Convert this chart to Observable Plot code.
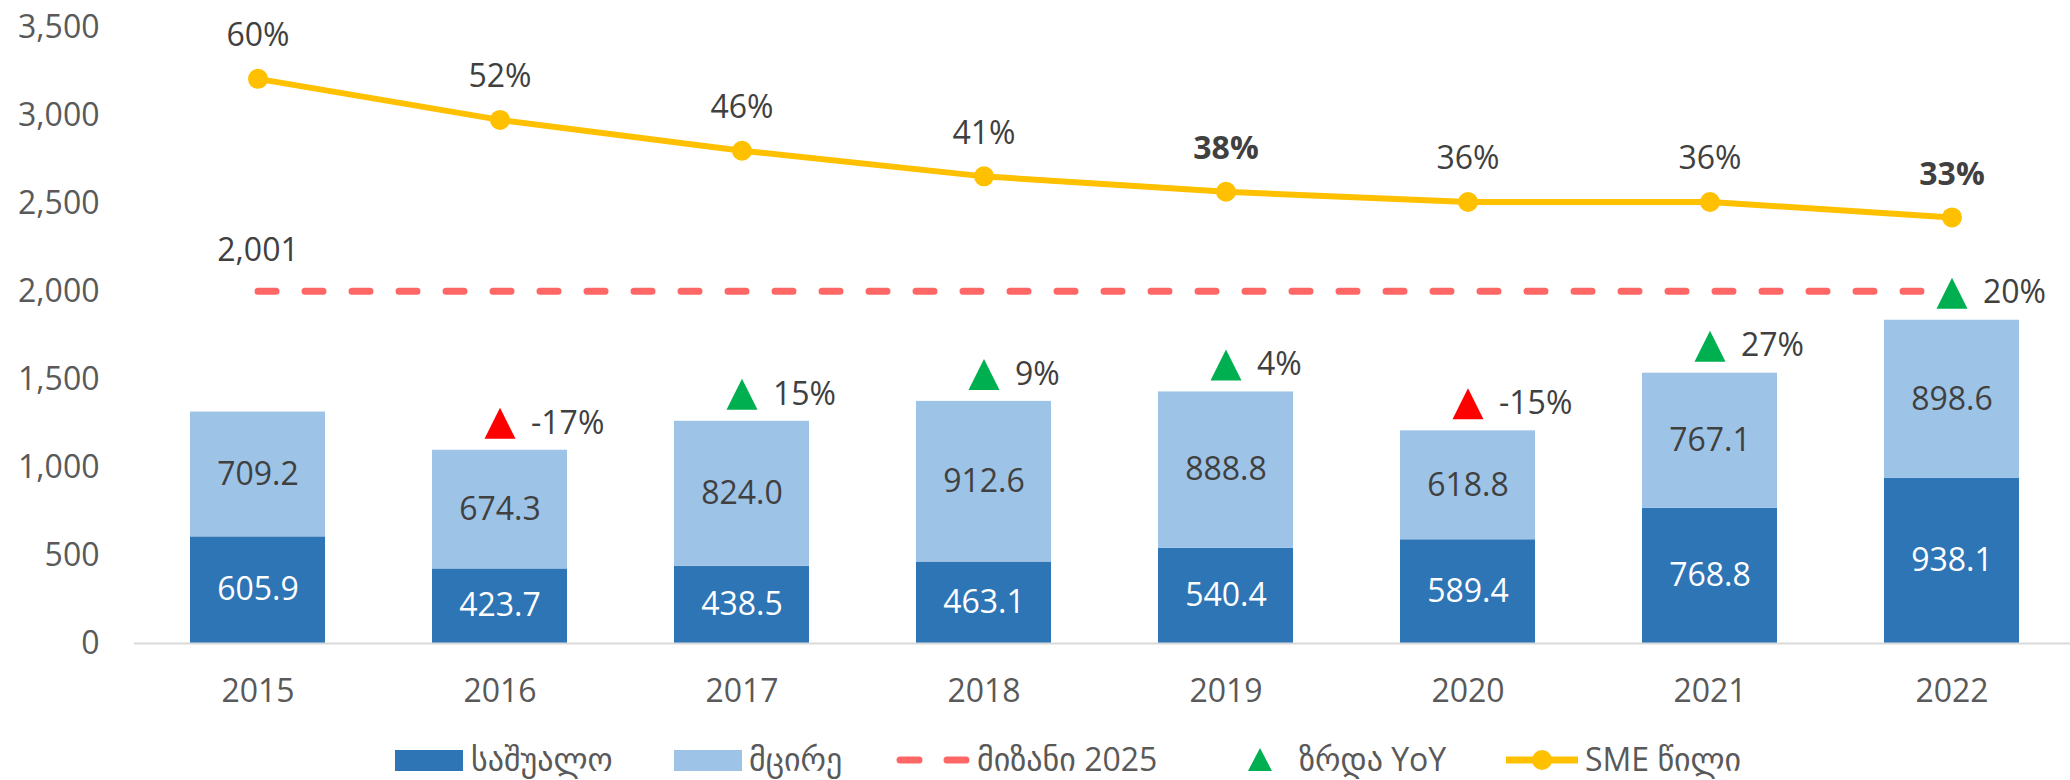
<!DOCTYPE html>
<html>
<head>
<meta charset="utf-8">
<script src="https://cdn.jsdelivr.net/npm/d3@7"></script>
<script src="https://cdn.jsdelivr.net/npm/@observablehq/plot@0.6"></script>
<style>
  html, body { margin: 0; padding: 0; background: #fff; }
  #chart { width: 2070px; }
  #legend { width: 2070px; height: 45px; position: relative; }
  #legend svg { display: block; }
</style>
</head>
<body>
<div id="chart"></div>
<div id="legend"></div>
<script>
// ---- data ----
const years = ["2015", "2016", "2017", "2018", "2019", "2020", "2021", "2022"];
const medium = [605.9, 423.7, 438.5, 463.1, 540.4, 589.4, 768.8, 938.1];   // საშუალო
const small  = [709.2, 674.3, 824.0, 912.6, 888.8, 618.8, 767.1, 898.6];   // მცირე
const target = [2001, 2001, 2001, 2001, 2001, 2001, 2001, 2001];           // მიზანი 2025
const yoy    = [null, -0.17, 0.15, 0.09, 0.04, -0.15, 0.27, 0.20];          // ზრდა YoY
const smeShare = [0.60, 0.52, 0.46, 0.41, 0.38, 0.36, 0.36, 0.33];          // SME წილი
const boldShareYears = ["2019", "2022"];
const yTicks = [0, 500, 1000, 1500, 2000, 2500, 3000, 3500];

const seriesNames = ["საშუალო", "მცირე", "მიზანი 2025", "ზრდა YoY", "SME წილი"];
const colors = {
  medium: "#2E75B6", small: "#9DC3E6", target: "#FF6666",
  up: "#00B050", down: "#FF0000", share: "#FFC000",
  axis: "#595959", label: "#404040"
};

// secondary (hidden) axis for the share line: -50% .. 70% mapped onto 0 .. 3500
const secDomain = [-0.5, 0.7];
const shareToY = s => (s - secDomain[0]) / (secDomain[1] - secDomain[0]) * 3500;

const rows = years.map((y, i) => ({
  year: y, medium: medium[i], small: small[i], total: medium[i] + small[i],
  target: target[i], yoy: yoy[i], share: smeShare[i], shareY: shareToY(smeShare[i]),
  bold: boldShareYears.includes(y)
}));
const yoyRows = rows.filter(d => d.yoy != null);

const font = "'Open Sans', 'DejaVu Sans', sans-serif";

const triangle = {
  draw(context, size) {
    const a = Math.sqrt(size / Math.PI);
    context.moveTo(0, -a);
    context.lineTo(a, a);
    context.lineTo(-a, a);
    context.closePath();
  }
};

const chart = Plot.plot({
  width: 2070,
  height: 735,
  marginTop: 27,
  marginBottom: 92,
  marginLeft: 134,
  marginRight: 0,
  style: { fontFamily: font, fontSize: "32px", background: "#fff" },
  x: { type: "band", domain: years, range: [134, 2074], paddingInner: 0.443, paddingOuter: 0.2215, label: null },
  y: { domain: [0, 3500], label: null },
  marks: [
    Plot.axisY({ ticks: yTicks, tickFormat: d3.format(","), tickSize: 0, tickPadding: 35, fill: colors.axis, fontSize: 32, label: null }),
    Plot.axisX({ tickSize: 0, tickPadding: 36, fill: colors.axis, fontSize: 32, label: null }),
    Plot.barY(rows, { x: "year", y1: 0, y2: "medium", fill: colors.medium }),
    Plot.barY(rows, { x: "year", y1: "medium", y2: "total", fill: colors.small }),
    Plot.ruleY([0], { stroke: "#D9D9D9", strokeWidth: 2 }),
    Plot.text(rows, { x: "year", y: d => d.medium / 2, text: d => d.medium.toFixed(1), fill: "#fff", fontSize: 32 }),
    Plot.text(rows, { x: "year", y: d => d.medium + d.small / 2, text: d => d.small.toFixed(1), fill: colors.label, fontSize: 32 }),
    // target line
    Plot.line(rows, { x: "year", y: "target", stroke: colors.target, strokeWidth: 7, strokeDasharray: "18,29", strokeLinecap: "round" }),
    Plot.text(rows.slice(0, 1), { x: "year", y: "target", text: d => d3.format(",")(d.target), dy: -41, fill: colors.label, fontSize: 32 }),
    // YoY markers
    Plot.dot(yoyRows.filter(d => d.yoy < 0), { x: "year", y: "total", dy: -27, r: 15.5, symbol: triangle, fill: colors.down, stroke: "none" }),
    Plot.dot(yoyRows.filter(d => d.yoy >= 0), { x: "year", y: "total", dy: -27, r: 15.5, symbol: triangle, fill: colors.up, stroke: "none" }),
    Plot.text(yoyRows, { x: "year", y: "total", dy: -27, dx: 31, textAnchor: "start", text: d => d3.format(".0%")(d.yoy).replace("−", "-"), fill: colors.label, fontSize: 32 }),
    // SME share line
    Plot.line(rows, { x: "year", y: "shareY", stroke: colors.share, strokeWidth: 6 }),
    Plot.dot(rows, { x: "year", y: "shareY", r: 10, fill: colors.share, stroke: "none" }),
    Plot.text(rows.filter(d => !d.bold), { x: "year", y: "shareY", dy: -43, text: d => d3.format(".0%")(d.share), fill: colors.label, fontSize: 32 }),
    Plot.text(rows.filter(d => d.bold), { x: "year", y: "shareY", dy: -43, text: d => d3.format(".0%")(d.share), fill: colors.label, fontSize: 32, fontWeight: "bold" })
  ]
});
document.getElementById("chart").appendChild(chart);

// ---- legend (below the chart) ----
const lg = d3.select("#legend").append("svg").attr("width", 2070).attr("height", 45)
  .style("font-family", font).style("font-size", "32px");
const cy = 25;
const textAt = (x, t) => lg.append("text").attr("x", x).attr("y", cy).attr("dy", "0.35em")
  .attr("fill", colors.axis).text(t);
// საშუალო
lg.append("rect").attr("x", 395).attr("y", cy - 10).attr("width", 68).attr("height", 21).attr("fill", colors.medium);
textAt(471, seriesNames[0]);
// მცირე
lg.append("rect").attr("x", 674).attr("y", cy - 10).attr("width", 68).attr("height", 21).attr("fill", colors.small);
textAt(749, seriesNames[1]);
// მიზანი 2025
lg.append("line").attr("x1", 900).attr("x2", 967).attr("y1", cy).attr("y2", cy)
  .attr("stroke", colors.target).attr("stroke-width", 7).attr("stroke-linecap", "round").attr("stroke-dasharray", "19,28");
textAt(977, seriesNames[2]);
// ზრდა YoY
lg.append("path").attr("d", `M1260,${cy - 12}L1272,${cy + 11}L1248,${cy + 11}Z`).attr("fill", colors.up);
textAt(1299, seriesNames[3]);
// SME წილი
lg.append("line").attr("x1", 1506).attr("x2", 1578).attr("y1", cy).attr("y2", cy).attr("stroke", colors.share).attr("stroke-width", 7);
lg.append("circle").attr("cx", 1542).attr("cy", cy).attr("r", 10).attr("fill", colors.share);
textAt(1585, seriesNames[4]);
</script>
</body>
</html>
